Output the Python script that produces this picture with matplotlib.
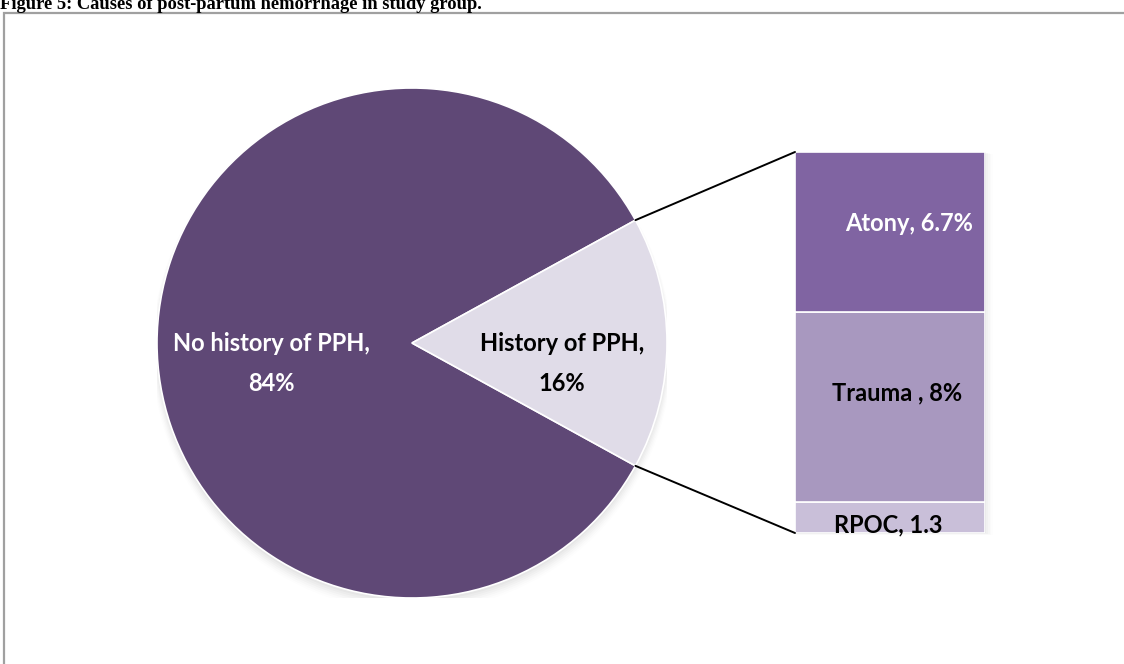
import matplotlib
matplotlib.use("Agg")
import matplotlib.pyplot as plt
from matplotlib.patches import ConnectionPatch, Rectangle
import numpy as np

# Data
pie_labels = ["No history of PPH,\n84%", "History of PPH,\n16%"]
pie_values = [84, 16]
pie_colors = ["#5F4876", "#E0DCE8"]
pie_text_colors = ["white", "black"]

bar_labels = ["RPOC, 1.3", "Trauma , 8%", "Atony, 6.7%"]
bar_values = [1.3, 8.0, 6.7]
bar_colors = ["#C9BFD9", "#A898BF", "#8064A2"]
bar_text_colors = ["black", "black", "white"]

title = "Figure 5: Causes of post-partum hemorrhage in study group."

W, H = 1124, 664
fig = plt.figure(figsize=(W / 100, H / 100), dpi=100)
fig.patch.set_facecolor("white")

def px_axes(x0, y0_top, w, h):
    return fig.add_axes([x0 / W, 1 - (y0_top + h) / H, w / W, h / H])

# frame
fig.add_artist(Rectangle((4 / W, -0.05), 1.1, 1 - 13 / H + 0.05,
                         transform=fig.transFigure, fill=False,
                         edgecolor="#A0A0A0", linewidth=1.6))

fig.text(0.0, 1 - 9 / H, title, family="Liberation Serif", weight="bold",
         fontsize=13.3, va="baseline", ha="left")

# Pie
cx, cy, r = 412, 343, 255
ax_pie = px_axes(cx - r, cy - r, 2 * r, 2 * r)
start = 360 * pie_values[1] / sum(pie_values) / 2
# shadow
for k, a in zip(range(6), np.linspace(0.05, 0.015, 6)):
    ax_pie.add_patch(plt.Circle((0.0, -0.012 - 0.004 * k), 1.0 + 0.004 * k,
                                color="black", alpha=a * 0.5, lw=0, zorder=0))
wedges, _ = ax_pie.pie(pie_values, colors=pie_colors, startangle=start,
                       radius=1.0, wedgeprops=dict(edgecolor="white", linewidth=1.2))
ax_pie.set_xlim(-1, 1)
ax_pie.set_ylim(-1, 1)
ax_pie.set_aspect("equal")
ax_pie.axis("off")

label_pos = [(-0.551, -0.08), (0.588, -0.08)]
for (lx, ly), lab, tc in zip(label_pos, pie_labels, pie_text_colors):
    ax_pie.text(lx, ly, lab, ha="center", va="center", color=tc,
                family="Lato", weight="bold", fontsize=17, linespacing=1.9)

# Bar
bx, by_top, bw, bh = 795, 152, 190, 381
ax_bar = px_axes(bx, by_top, bw, bh)
total = sum(bar_values)
# shadow for bar
for k, a in zip(range(5), np.linspace(0.05, 0.015, 5)):
    ax_bar.add_patch(Rectangle((-0.5 + 0.004, -0.02 - 0.02 * k), 1.0 + 0.01 * k, total,
                               color="black", alpha=a * 0.5, lw=0, zorder=0,
                               clip_on=False))
bottom = 0
label_dx = [-0.01, 0.035, 0.10]
label_dy = [0.3, 0.59, 0.34]
for i, (v, c, lab, tc) in enumerate(zip(bar_values, bar_colors, bar_labels, bar_text_colors)):
    ax_bar.bar(0, v, bottom=bottom, width=1.0, color=c, edgecolor="white",
               linewidth=1.2, zorder=2)
    yy = bottom + v / 2 + label_dy[i] * (1 if i else -1)
    ax_bar.text(label_dx[i], yy, lab, ha="center", va="center", color=tc,
                family="Lato", weight="bold", fontsize=17, clip_on=False, zorder=3)
    bottom += v
ax_bar.set_xlim(-0.5, 0.5)
ax_bar.set_ylim(0, total)
ax_bar.axis("off")

# Connectors
theta1, theta2 = wedges[1].theta1, wedges[1].theta2
for theta, yb in [(theta2, total), (theta1, 0)]:
    x = np.cos(np.radians(theta))
    y = np.sin(np.radians(theta))
    con = ConnectionPatch(xyA=(-0.5, yb), coordsA=ax_bar.transData,
                          xyB=(x, y), coordsB=ax_pie.transData,
                          color="black", linewidth=1.4)
    fig.add_artist(con)

fig.savefig("out.png", dpi=100)
